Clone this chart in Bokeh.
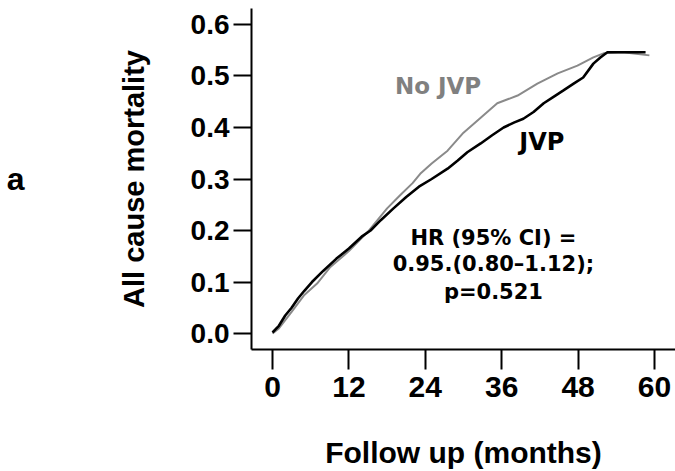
from bokeh.plotting import figure
from bokeh.models import Range1d, FixedTicker, Label, LinearAxis
from bokeh.embed import file_html
from bokeh.resources import INLINE

# ---- data ----
jvp_months = [0, 1, 2, 3, 4, 5, 6.2, 8, 10, 12, 14, 15.4, 17, 19, 21, 23, 25, 27.5, 29.1,
              30.6, 32.7, 34.5, 36.3, 38, 39.4, 41, 42.6, 44.2, 45.7, 47.3, 48.8, 50.4,
              51.5, 52.6, 55, 58.6]
jvp_mort = [0.002, 0.015, 0.035, 0.05, 0.068, 0.083, 0.10, 0.122, 0.145, 0.165, 0.188, 0.20,
            0.22, 0.243, 0.265, 0.285, 0.30, 0.32, 0.336, 0.352, 0.369, 0.385, 0.40, 0.41,
            0.417, 0.43, 0.447, 0.46, 0.472, 0.485, 0.497, 0.524, 0.536, 0.546, 0.546, 0.546]

nojvp_months = [0, 1, 3, 5, 7, 9, 12, 15, 18, 20, 22, 23.2, 25, 27.5, 30, 32.7, 35.3,
                38.5, 41.6, 44.8, 47.9, 50.4, 52, 55, 59.2]
nojvp_mort = [0.0, 0.010, 0.042, 0.075, 0.097, 0.128, 0.160, 0.198, 0.243, 0.268, 0.292, 0.31,
              0.33, 0.355, 0.39, 0.419, 0.447, 0.462, 0.485, 0.505, 0.520, 0.536, 0.544,
              0.546, 0.54]

x_ticks = [0, 12, 24, 36, 48, 60]
y_ticks = [0.0, 0.1, 0.2, 0.3, 0.4, 0.5, 0.6]
y_tick_labels = {0.0: "0.0", 0.1: "0.1", 0.2: "0.2", 0.3: "0.3", 0.4: "0.4", 0.5: "0.5", 0.6: "0.6"}

FONT = "Liberation Sans"

p = figure(width=675, height=471, output_backend="svg", toolbar_location=None,
           x_range=Range1d(-3.3, 63.3), y_range=Range1d(-0.031, 0.631),
           min_border_left=251, min_border_right=0, min_border_top=8, min_border_bottom=122)
p.outline_line_color = None
p.xgrid.visible = False
p.ygrid.visible = False
p.background_fill_color = "white"
p.border_fill_color = "white"

# curves
p.line(nojvp_months, nojvp_mort, line_color="#8a8a8a", line_width=2)
p.line(jvp_months, jvp_mort, line_color="black", line_width=2.6)

# axes
xa = p.xaxis[0]
xa.ticker = FixedTicker(ticks=x_ticks)
xa.axis_label = "Follow up (months)"
xa.axis_label_text_font = FONT
xa.axis_label_text_font_style = "bold"
xa.axis_label_text_font_size = "30px"
xa.axis_label_text_color = "black"
xa.axis_label_standoff = 36
xa.major_label_text_font = FONT
xa.major_label_text_font_style = "bold"
xa.major_label_text_font_size = "30px"
xa.major_label_text_color = "black"
xa.major_label_standoff = 7
xa.major_tick_out = 20
xa.major_tick_in = 0
xa.minor_tick_out = 0
xa.minor_tick_in = 0
xa.axis_line_width = 2
xa.major_tick_line_width = 2

ya = p.yaxis[0]
ya.ticker = FixedTicker(ticks=y_ticks)
ya.major_label_overrides = y_tick_labels
ya.axis_label = "All cause mortality"
ya.axis_label_text_font = FONT
ya.axis_label_text_font_style = "bold"
ya.axis_label_text_font_size = "29px"
ya.axis_label_text_color = "black"
ya.axis_label_standoff = 38
ya.major_label_text_font = FONT
ya.major_label_text_font_style = "bold"
ya.major_label_text_font_size = "28px"
ya.major_label_text_color = "black"
ya.major_label_standoff = 4
ya.major_tick_out = 18
ya.major_tick_in = 0
ya.minor_tick_out = 0
ya.minor_tick_in = 0
ya.axis_line_width = 2
ya.major_tick_line_width = 2

# panel letter "a" as the label of an outer, tick-less axis
pa = LinearAxis(ticker=FixedTicker(ticks=[]), axis_label="a",
                axis_line_color=None, major_tick_line_color=None, minor_tick_line_color=None,
                major_label_text_font_size="0px")
pa.axis_label_orientation = "horizontal"
pa.axis_label_text_font = FONT
pa.axis_label_text_font_style = "bold"
pa.axis_label_text_font_size = "32px"
pa.axis_label_text_color = "black"
pa.axis_label_standoff = 90
p.add_layout(pa, "left")

# annotations
p.add_layout(Label(x=26.0, y=0.456, text="No JVP", text_align="center",
                   text_font="DejaVu Sans", text_font_style="bold", text_font_size="23px",
                   text_color="#808080"))
p.add_layout(Label(x=42.3, y=0.3456, text="JVP", text_align="center",
                   text_font="DejaVu Sans", text_font_style="bold", text_font_size="24px",
                   text_color="black"))
hr_lines = ["HR (95% CI) =", "0.95.(0.80\u20131.12);", "p=0.521"]
hr_y = [0.163, 0.111, 0.058]
for t, yy in zip(hr_lines, hr_y):
    p.add_layout(Label(x=34.7, y=yy, text=t, text_align="center",
                       text_font="DejaVu Sans", text_font_style="bold", text_font_size="21px",
                       text_color="black"))

open("out.html", "w").write(file_html(p, INLINE))
